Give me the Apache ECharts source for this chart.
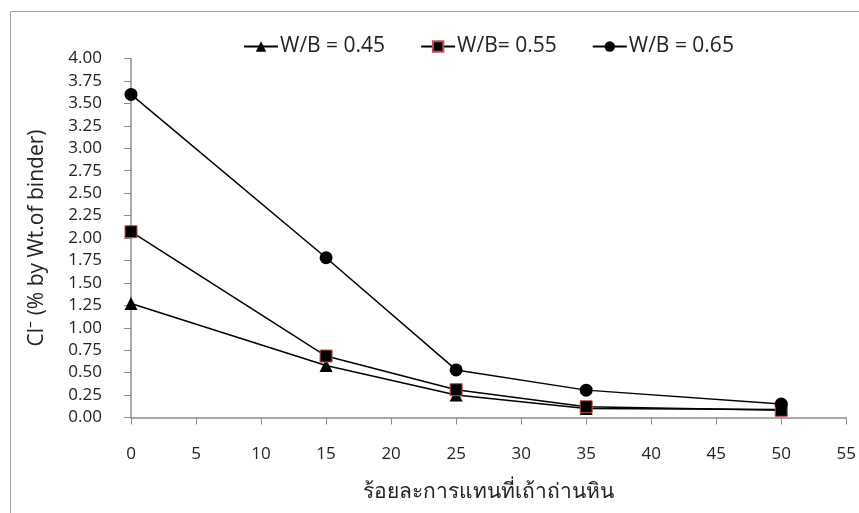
<!DOCTYPE html>
<html><head><meta charset="utf-8">
<script src="https://cdn.jsdelivr.net/npm/echarts@6/dist/echarts.min.js"></script>
<style>html,body{margin:0;padding:0;background:#fff}#c{width:859px;height:513px}</style>
</head><body><div id="c"></div>
<script>
const xValues = [0, 15, 25, 35, 50];
const seriesNames = ['W/B = 0.45', 'W/B= 0.55', 'W/B = 0.65'];
const wb045 = [1.27, 0.58, 0.25, 0.10, 0.09];
const wb055 = [2.07, 0.685, 0.31, 0.12, 0.08];
const wb065 = [3.60, 1.78, 0.53, 0.305, 0.15];
const yTicks = [0, 0.25, 0.5, 0.75, 1, 1.25, 1.5, 1.75, 2, 2.25, 2.5, 2.75, 3, 3.25, 3.5, 3.75, 4];
const xTitle = 'ร้อยละการแทนที่เถ้าถ่านหิน';
const yTitle = 'Cl⁻ (% by Wt.of binder)';

const font = '"Open Sans", "Noto Sans", sans-serif';
const chart = echarts.init(document.getElementById('c'));
const mk = (vals) => xValues.map((x, i) => [x, vals[i]]);
chart.setOption({
  animation: false,
  textStyle: {fontFamily: font},
  graphic: [{type: 'rect', shape: {x: 10.5, y: 11.5, width: 1000, height: 1000}, style: {fill: 'none', stroke: '#a0a0a0', lineWidth: 1}, silent: true, z: -1}],
  grid: {left: 131, right: 6, top: 58.5, bottom: 95.5},
  legend: {
    top: 31, left: 238, itemGap: 35, itemWidth: 34, itemHeight: 13,
    textStyle: {fontSize: 21, color: '#222', fontFamily: font, padding: [0, 0, 0, -3]},
    data: seriesNames
  },
  xAxis: {
    type: 'value', min: 0, max: 55, interval: 5,
    name: xTitle, nameLocation: 'middle', nameGap: 64,
    nameTextStyle: {fontSize: 21, color: '#222', fontFamily: font},
    axisLine: {lineStyle: {color: '#8c8c8c', width: 1.5}},
    axisTick: {show: true, length: 7, lineStyle: {color: '#8c8c8c'}},
    axisLabel: {fontSize: 17, color: '#222', margin: 28},
    splitLine: {show: false}
  },
  yAxis: {
    type: 'value', min: 0, max: 4, interval: 0.25,
    name: yTitle, nameLocation: 'middle', nameGap: 83, nameRotate: 90,
    nameTextStyle: {fontSize: 21, color: '#222', fontFamily: font},
    axisLine: {show: true, lineStyle: {color: '#8c8c8c', width: 1.5}},
    axisTick: {show: true, length: 7, lineStyle: {color: '#8c8c8c'}},
    axisLabel: {fontSize: 17, color: '#222', margin: 29, formatter: v => v.toFixed(2)},
    splitLine: {show: false}
  },
  series: [
    {name: seriesNames[0], type: 'line', data: mk(wb045), symbol: 'triangle', symbolSize: 13,
     lineStyle: {color: '#000', width: 1.5}, itemStyle: {color: '#000'}},
    {name: seriesNames[1], type: 'line', data: mk(wb055), symbol: 'rect', symbolSize: 12,
     lineStyle: {color: '#000', width: 1.5}, itemStyle: {color: '#000', borderColor: '#c0504d', borderWidth: 1}},
    {name: seriesNames[2], type: 'line', data: mk(wb065), symbol: 'circle', symbolSize: 13,
     lineStyle: {color: '#000', width: 1.5}, itemStyle: {color: '#000'}}
  ]
});
</script></body></html>
